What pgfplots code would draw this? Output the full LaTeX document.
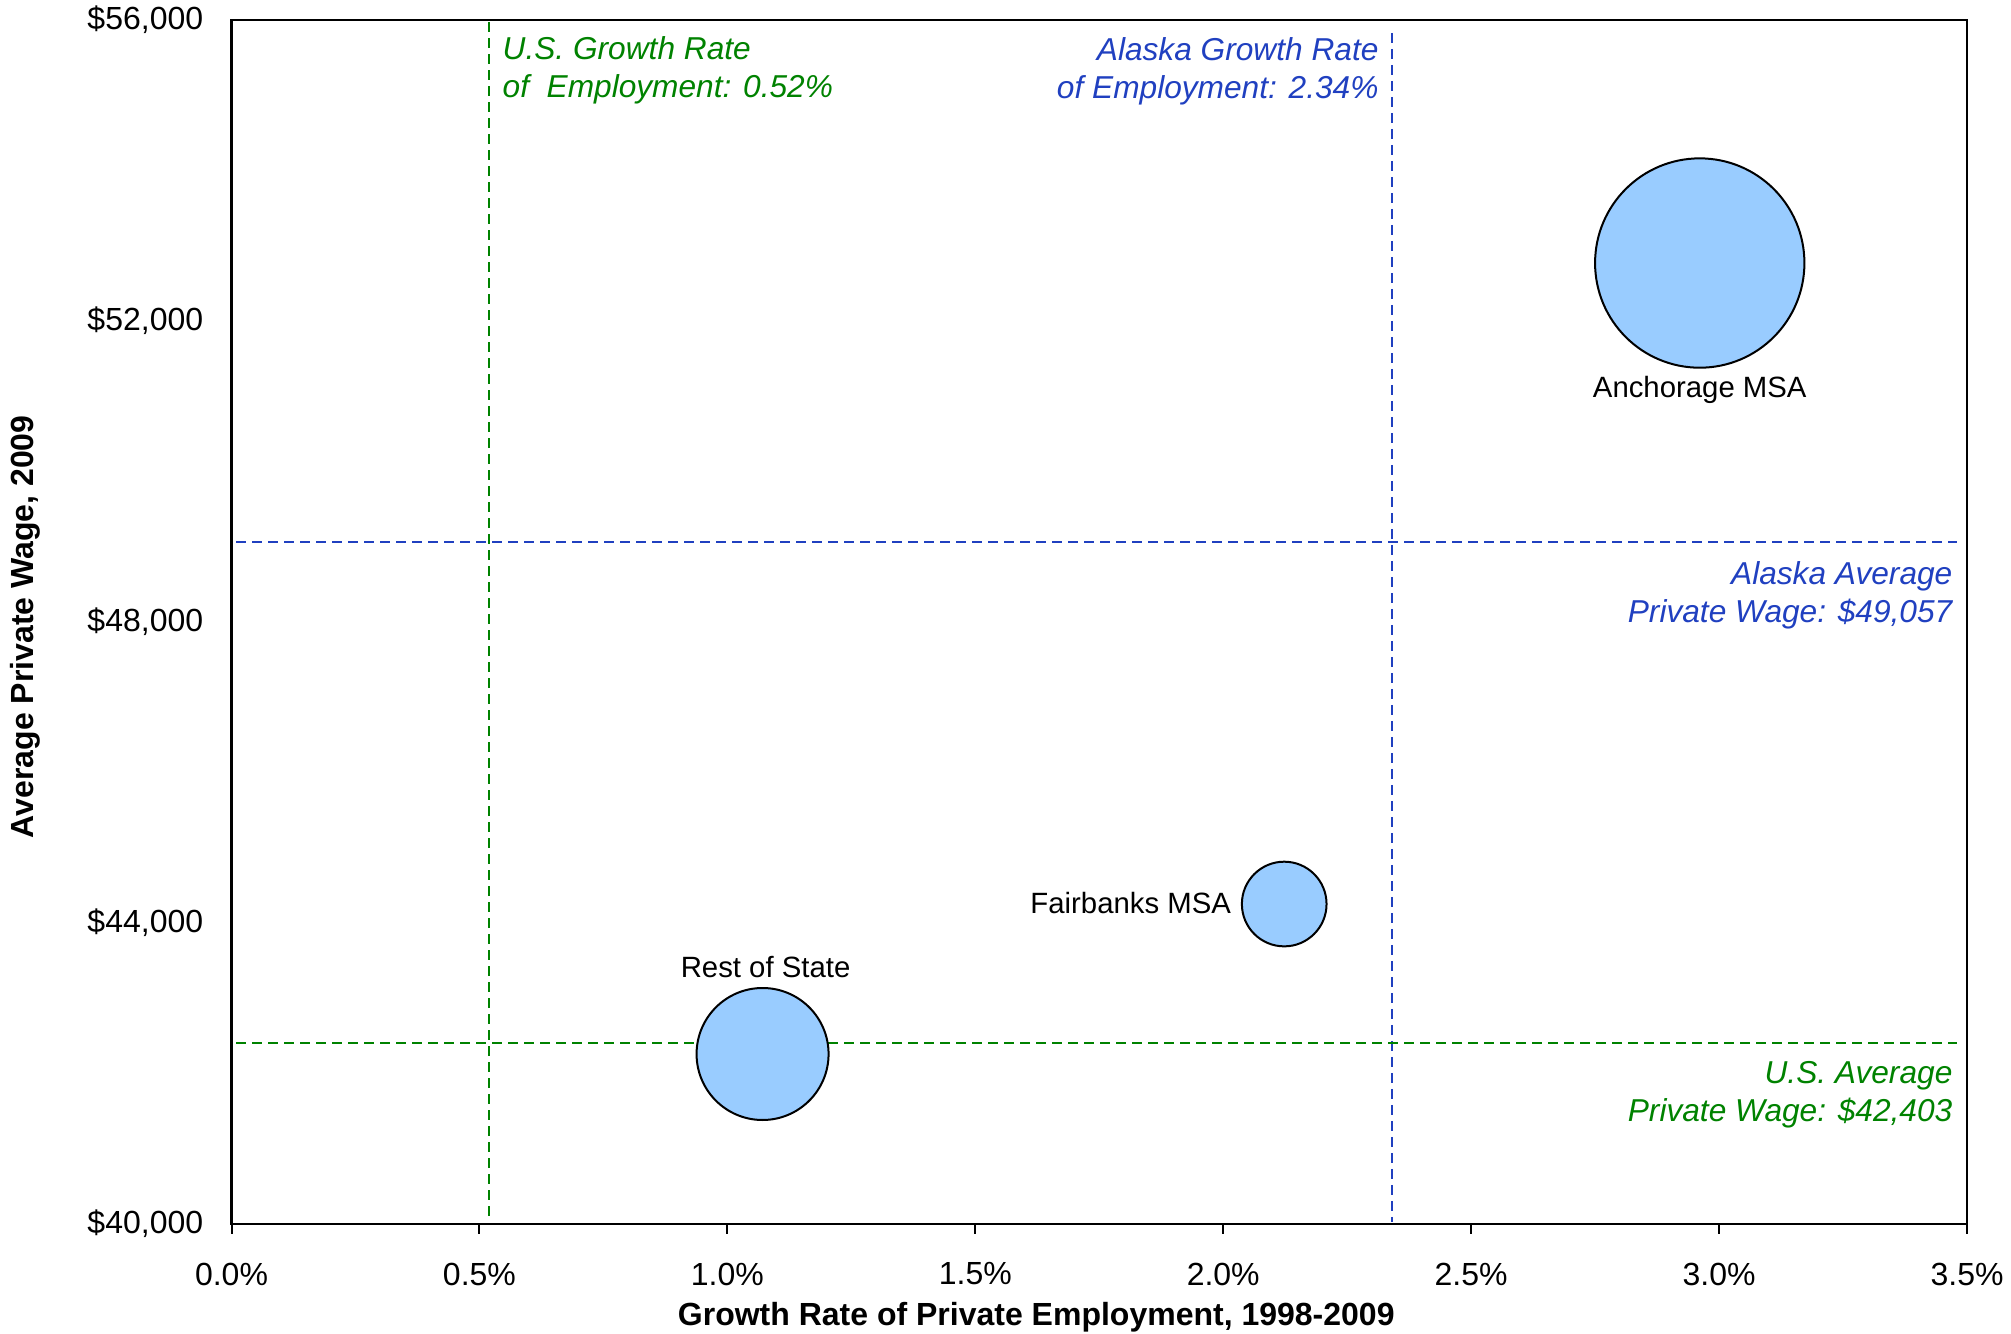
\documentclass[border=0pt]{standalone}
\usepackage{pgfplots}
\pgfplotsset{compat=1.18}
\usepackage{fontspec}
\setmainfont{Liberation Sans}
\definecolor{usgreen}{RGB}{0,130,0}
\definecolor{akblue}{RGB}{32,64,192}
\definecolor{bubblefill}{RGB}{153,204,255}
\begin{document}
\fontsize{9.2}{11.2}\selectfont
\begin{tikzpicture}
\begin{axis}[
  scale only axis,
  width=520.65pt, height=361.2pt,
  xmin=0, xmax=3.5, ymin=40000, ymax=56000,
  clip=false,
  axis line style={black, line width=0.7pt},
  tick align=outside,
  major tick length=3pt,
  xtick={0,0.5,1,1.5,2,2.5,3,3.5},
  xticklabels={0.0\%,0.5\%,1.0\%,1.5\%,2.0\%,2.5\%,3.0\%,3.5\%},
  ytick={40000,44000,48000,52000,56000},
  yticklabels={{\$40,000},{\$44,000},{\$48,000},{\$52,000},{\$56,000}},
  xtick style={black, line width=0.6pt},
  ytick style={draw=none},
  xtick pos=bottom, ytick pos=left,
  xticklabel style={font=\fontsize{9.6}{11.4}\selectfont, anchor=north, inner sep=0pt, yshift=-8.4pt},
  yticklabel style={font=\fontsize{9.6}{11.4}\selectfont, anchor=east, inner sep=0pt, xshift=-5.3pt},
  /pgf/number format/assume math mode=true,
  xlabel={\bfseries Growth Rate of Private Employment, 1998-2009},
  xlabel style={at={(axis description cs:0.4637,-0.0772)}, anchor=center, inner sep=0pt, font=\fontsize{9.6}{11.4}\selectfont},
  ylabel={\bfseries Average Private Wage, 2009},
  ylabel style={at={(axis description cs:-0.1187,0.496)}, anchor=center, inner sep=0pt, font=\fontsize{9.6}{11.4}\selectfont},
]
% reference lines
\addplot[usgreen, line width=0.6pt, dash pattern=on 3pt off 1.8pt] coordinates {(0.52,55970) (0.52,40030)};
\addplot[akblue, line width=0.6pt, dash pattern=on 3pt off 1.8pt] coordinates {(2.34,55830) (2.34,40030)};
\addplot[akblue, line width=0.6pt, dash pattern=on 3pt off 1.8pt] coordinates {(0.01,49057) (3.48,49057)};
\addplot[usgreen, line width=0.6pt, dash pattern=on 3pt off 1.8pt] coordinates {(0.01,42403) (3.48,42403)};
% bubbles
\addplot[only marks, mark=*, mark size=31.4pt, mark options={fill=bubblefill, draw=black, line width=0.6pt}] coordinates {(2.961,52770)};
\addplot[only marks, mark=*, mark size=12.7pt, mark options={fill=bubblefill, draw=black, line width=0.6pt}] coordinates {(2.123,44252)};
\addplot[only marks, mark=*, mark size=19.8pt, mark options={fill=bubblefill, draw=black, line width=0.6pt}] coordinates {(1.071,42259)};
% labels
\node[anchor=center, inner sep=0pt, font=\fontsize{8.8}{10.6}\selectfont] at (axis cs:2.961,51080) {Anchorage MSA};
\node[anchor=east, inner sep=0pt, font=\fontsize{8.8}{10.6}\selectfont] at (axis cs:2.017,44270) {Fairbanks MSA};
\node[anchor=center, inner sep=0pt, font=\fontsize{8.8}{10.6}\selectfont] at (axis cs:1.077,43410) {Rest of State};
% annotations
\node[anchor=base west, inner sep=0pt, align=left, text=usgreen, font=\fontsize{9.5}{11.4}\selectfont\itshape, xshift=3.8pt, yshift=-23.4pt] at (axis cs:0.52,56000) {U.S. Growth Rate\\of\ \ Employment: 0.52\%};
\node[anchor=base east, inner sep=0pt, align=right, text=akblue, font=\fontsize{9.5}{11.4}\selectfont\itshape, xshift=-3.8pt, yshift=-23.7pt] at (axis cs:2.34,56000) {Alaska Growth Rate\\of Employment: 2.34\%};
\node[anchor=base east, inner sep=0pt, align=right, text=akblue, font=\fontsize{9.5}{11.4}\selectfont\itshape, xshift=-4.2pt, yshift=-24pt] at (axis cs:3.5,49057) {Alaska Average\\Private Wage: \$49,057};
\node[anchor=base east, inner sep=0pt, align=right, text=usgreen, font=\fontsize{9.5}{11.4}\selectfont\itshape, xshift=-4.2pt, yshift=-23.6pt] at (axis cs:3.5,42403) {U.S. Average\\Private Wage: \$42,403};
\path (rel axis cs:0,0) coordinate (sw) (rel axis cs:1,1) coordinate (ne);
\end{axis}
\pgfresetboundingbox
\path[use as bounding box] ([shift={(-69.45pt,-33pt)}]sw) rectangle ([shift={(13.2pt,6pt)}]ne);
\end{tikzpicture}
\end{document}
